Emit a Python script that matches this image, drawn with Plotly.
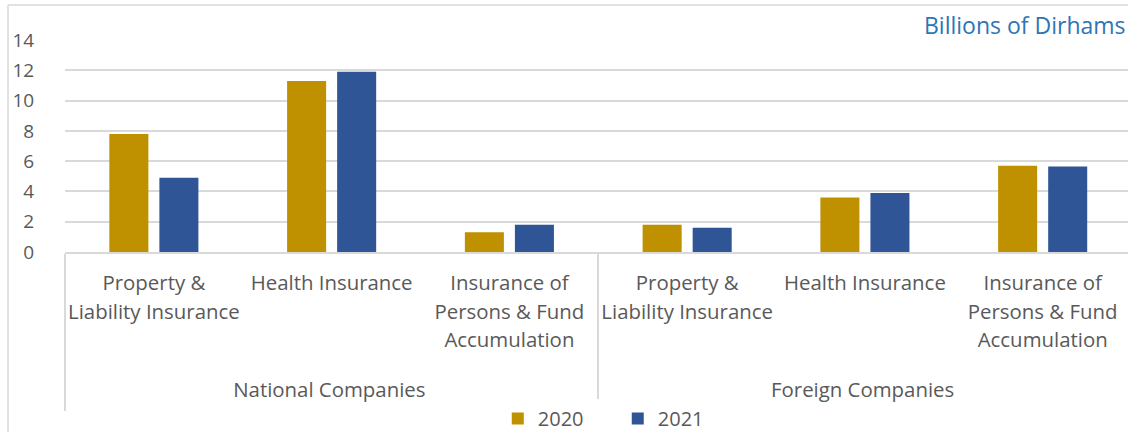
import plotly.graph_objects as go

groups = ["National Companies"] * 3 + ["Foreign Companies"] * 3
categories = [
    "Property &<br>Liability Insurance",
    "Health Insurance",
    "Insurance of<br>Persons & Fund<br>Accumulation",
] * 2
values_2020 = [7.8, 11.3, 1.3, 1.8, 3.6, 5.7]
values_2021 = [4.9, 11.9, 1.8, 1.6, 3.9, 5.65]
series_names = ["2020", "2021"]
colors = ["#BF9000", "#2F5597"]
y_ticks = [0, 2, 4, 6, 8, 10, 12, 14]

FONT = "Open Sans"
GRAY = "#595959"


def small(label, size=20.4, tail=None):
    # keep glyphs at `size` px while the axis font (larger) sets the line spacing;
    # an optional invisible tall hair space deepens the label's box a little
    parts = [f"<span style='font-size:{size}px'>{p}</span>" for p in label.split("<br>")]
    if tail:
        parts[-1] += f"<span style='font-size:{tail}px'>\u200a</span>"
    return "<br>".join(parts)


group_labels = ["<br>" + small(g, tail=46) for g in groups]
cat_labels = [small(c) for c in categories]

fig = go.Figure()
for name, vals, col in zip(series_names, [values_2020, values_2021], colors):
    fig.add_trace(go.Bar(
        x=[group_labels, cat_labels], y=vals, name=name,
        marker=dict(color=col, line=dict(width=0)),
    ))

fig.update_layout(
    width=1128, height=432,
    margin=dict(l=65, r=0, t=40, b=180),
    paper_bgcolor="white", plot_bgcolor="white",
    barmode="group", bargap=0.437, bargroupgap=0.22,
    font=dict(family=FONT, size=19, color=GRAY),
    showlegend=True,
    legend=dict(orientation="h", x=0.52, xanchor="center", yref="container",
                y=0.031, yanchor="middle",
                font=dict(size=20, color=GRAY), entrywidth=75, entrywidthmode="pixels",
                itemclick=False),
    annotations=[dict(text="Billions of Dirhams", xref="paper", yref="paper",
                      x=1.0, y=1.07, xanchor="right", yanchor="middle",
                      showarrow=False, font=dict(size=23, color="#2E75B6", family=FONT))],
    shapes=[
        dict(type="line", xref="paper", yref="paper", x0=-0.0536, x1=-0.0536, y0=1.165, y1=-1.0,
             line=dict(color="#D9D9D9", width=1.5)),
        dict(type="line", xref="paper", yref="paper", x0=-0.0536, x1=1.0, y0=1.165, y1=1.165,
             line=dict(color="#D9D9D9", width=1.5)),
    ],
)
fig.update_xaxes(
    type="multicategory", range=[-0.5, 5.48], automargin=False,
    showline=True, linecolor="#D9D9D9", linewidth=1.5,
    showdividers=True, dividercolor="#D9D9D9", dividerwidth=1.5,
    tickfont=dict(size=22.3, color=GRAY, family=FONT),
    tickangle=0,
    ticklabelstandoff=9,
    showgrid=False, ticks="",
)
fig.update_yaxes(
    range=[0, 14], tickvals=y_ticks, automargin=False,
    showgrid=True, gridcolor="#D9D9D9", gridwidth=1.5,
    zeroline=False, showline=False,
    ticks="outside", ticklen=26, tickcolor="rgba(0,0,0,0)",
    tickfont=dict(size=19, color=GRAY, family=FONT),
)
fig.write_html("out.html", config={"displayModeBar": False},
               post_script="document.body.style.margin='0';")
